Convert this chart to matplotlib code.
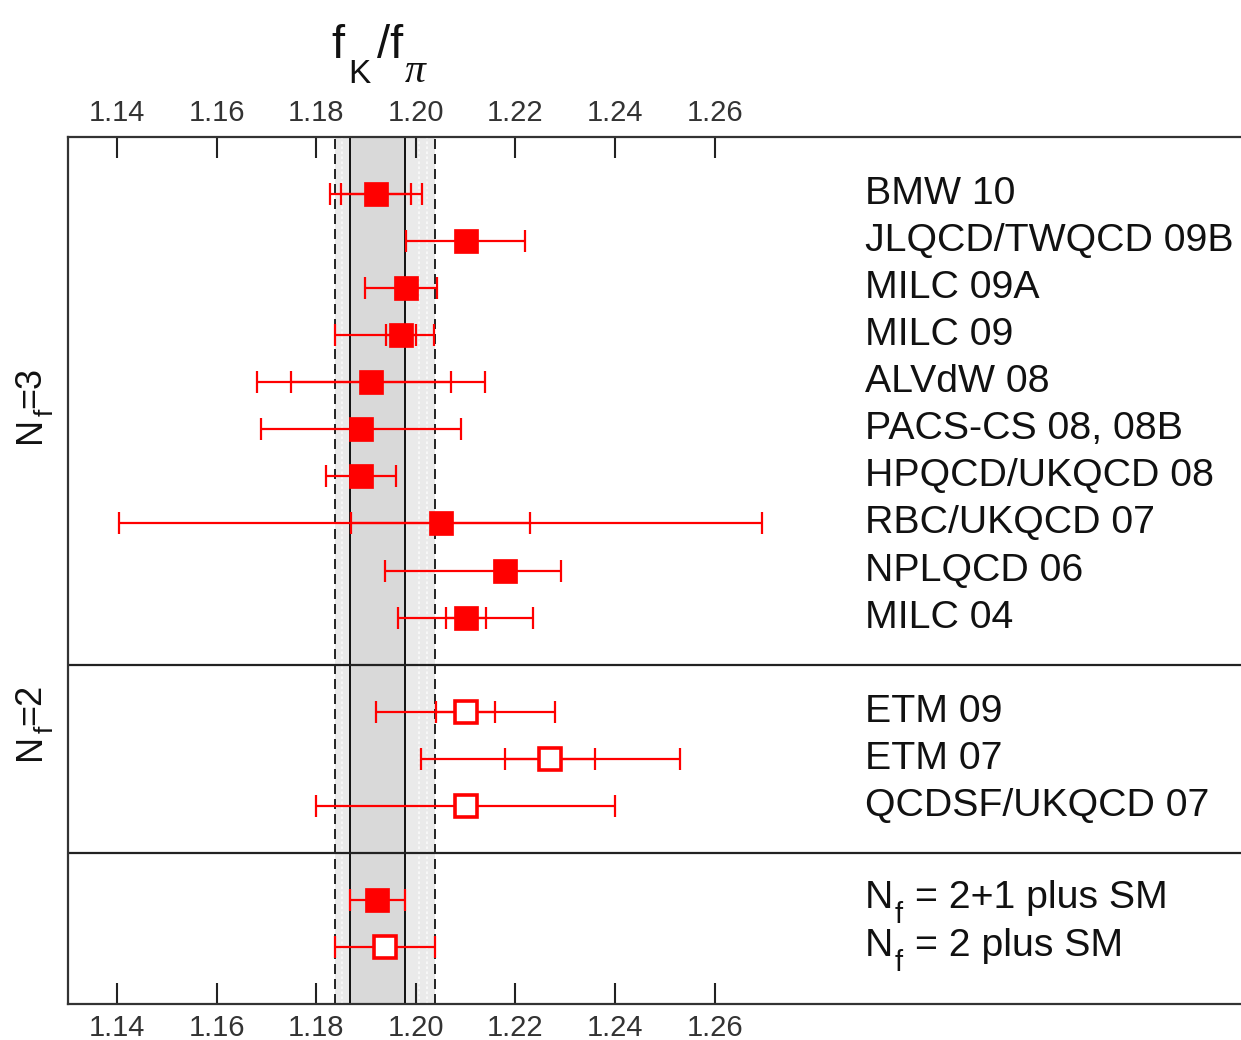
import matplotlib
matplotlib.use('Agg')
import matplotlib.pyplot as plt
from matplotlib import font_manager as fm
from matplotlib.transforms import offset_copy

plt.rcParams['font.family'] = ['Liberation Sans', 'DejaVu Sans']
plt.rcParams['mathtext.fontset'] = 'custom'
plt.rcParams['mathtext.rm'] = 'Liberation Sans'
plt.rcParams['mathtext.it'] = 'Liberation Sans:italic'
plt.rcParams['mathtext.sf'] = 'Liberation Sans'

# ---------------- data ----------------
labels_nf3 = ['BMW 10', 'JLQCD/TWQCD 09B', 'MILC 09A', 'MILC 09', 'ALVdW 08',
              'PACS-CS 08, 08B', 'HPQCD/UKQCD 08', 'RBC/UKQCD 07', 'NPLQCD 06', 'MILC 04']
val_nf3 = [1.192, 1.210, 1.198, 1.197, 1.191, 1.189, 1.189, 1.205, 1.218, 1.210]
stat_nf3 = [0.007, None, 0.002, 0.003, 0.016, None, None, 0.018, 0.002, 0.004]
totlo_nf3 = [0.0092, 0.012, 0.0082, 0.0133, 0.0228, 0.020, 0.007, 0.0645, 0.0241, 0.0136]
tothi_nf3 = [0.0092, 0.012, 0.0063, 0.0067, 0.0228, 0.020, 0.007, 0.0645, 0.0112, 0.0136]

labels_nf2 = ['ETM 09', 'ETM 07', 'QCDSF/UKQCD 07']
val_nf2 = [1.210, 1.227, 1.210]
stat_nf2 = [0.006, 0.009, None]
totlo_nf2 = [0.018, 0.026, 0.030]
tothi_nf2 = [0.018, 0.026, 0.030]

# SM labels as (main, subscript, rest)
labels_sm = [('N', 'f', '= 2+1 plus SM'), ('N', 'f', '= 2 plus SM')]
val_sm = [1.1923, 1.1938]
err_sm = [0.0055, 0.0100]
filled_sm = [True, False]

group_labels = [('N', 'f', '=3'), ('N', 'f', '=2')]

xticks = [1.14, 1.16, 1.18, 1.20, 1.22, 1.24, 1.26]

# ---------------- layout ----------------
W, H = 1241, 1040
fig = plt.figure(figsize=(W / 100, H / 100), dpi=100)
ax = fig.add_axes([68 / W, 36 / H, 1 - 68 / W, 867 / H])
ax.set_xlim(1.13016, 1.3657)
ax.set_ylim(17.2, -1.2)
renderer = fig.canvas.get_renderer()

# row positions
y_nf3 = list(range(len(labels_nf3)))
y_nf2 = [len(labels_nf3) + 1 + i for i in range(len(labels_nf2))]
y_sm = [y_nf2[-1] + 2 + i for i in range(len(labels_sm))]
sep1 = len(labels_nf3)
sep2 = y_nf2[-1] + 1

# bands from the SM results
lo_dark, hi_dark = val_sm[0] - err_sm[0], val_sm[0] + err_sm[0]
lo_light, hi_light = val_sm[1] - err_sm[1], val_sm[1] + err_sm[1]
ax.axvspan(lo_light, hi_light, color='#eaeaea', zorder=0, lw=0)
ax.axvspan(lo_dark, hi_dark, color='#d9d9d9', zorder=0.5, lw=0)
for xv in [lo_light + 0.0013, hi_light - 0.0032, hi_light - 0.0015]:
    ax.axvline(xv, color='white', lw=1.2, ls=(0, (1.5, 1.5)), zorder=0.6, alpha=0.8)
for xv in [lo_light, hi_light]:
    ax.axvline(xv, color='black', lw=1.2, ls=(0, (6, 3)), zorder=1)
for xv in [lo_dark, hi_dark]:
    ax.axvline(xv, color='black', lw=1.3, zorder=1)

# separators
for ys in [sep1, sep2]:
    ax.axhline(ys, color='#222222', lw=1.6, zorder=1)

RED = '#ff0000'
EKW = dict(fmt='none', ecolor=RED, elinewidth=1.6, capsize=8, capthick=1.6, zorder=4)


def draw_point(y, v, lo, hi, stat, filled):
    ax.errorbar([v], [y], xerr=[[lo], [hi]], **EKW)
    if stat is not None:
        ax.errorbar([v], [y], xerr=[[stat], [stat]], **EKW)
    if filled:
        ax.plot([v], [y], ls='none', marker='s', ms=17, mfc=RED, mec=RED, mew=0.5, zorder=5)
    else:
        ax.plot([v], [y], ls='none', marker='s', ms=15.5, mfc='white', mec=RED, mew=2.6, zorder=5)


for y, v, lo, hi, s in zip(y_nf3, val_nf3, totlo_nf3, tothi_nf3, stat_nf3):
    draw_point(y, v, lo, hi, s, True)
for y, v, lo, hi, s in zip(y_nf2, val_nf2, totlo_nf2, tothi_nf2, stat_nf2):
    draw_point(y, v, lo, hi, s, False)
for y, v, e, f in zip(y_sm, val_sm, err_sm, filled_sm):
    draw_point(y, v, e, e, None, f)

TXT = '#111111'
FS = 28.3


def text_width(s, size):
    t = fig.text(0, 0, s, fontsize=size)
    w = t.get_window_extent(renderer).width
    t.remove()
    return w


def sub_label(x, y, transform, parts, size, subsize, drop, gap, base_dy=0.0,
              rotation=0, center=False):
    """Draw main + lowered subscript + rest, all as real text pieces (dots offsets)."""
    main, sub, rest = parts
    w1 = text_width(main, size)
    w2 = text_width(sub, subsize)
    w3 = text_width(rest, size)
    offs = [(0.0, 0.0), (w1 + 1.0, -drop), (w1 + w2 + gap, 0.0)]
    total = w1 + w2 + gap + w3
    start = -total / 2.0 if center else 0.0
    for (s, sz), (adv, dd) in zip([(main, size), (sub, subsize), (rest, size)], offs):
        a = start + adv
        d = base_dy + dd
        if rotation == 90:
            dx, dy = -d, a
        else:
            dx, dy = a, d
        tr = offset_copy(transform, fig=fig, x=dx, y=dy, units='dots')
        fig.text(x, y, s, transform=tr, fontsize=sz, ha='left', va='baseline',
                 rotation=rotation, rotation_mode='anchor', color=TXT)


# labels on the right
xlab = 1.2902
for y, lab in zip(y_nf3 + y_nf2, labels_nf3 + labels_nf2):
    ax.text(xlab, y, lab, fontsize=FS, va='center', ha='left', color=TXT)
cap_half = 0.716 * FS * 100 / 72 / 2
for y, parts in zip(y_sm, labels_sm):
    sub_label(xlab, y, ax.transData, parts, FS, 21, 15, 13, base_dy=-cap_half + 6)

# ticks
try:
    fm.findfont('Liberation Sans Narrow', fallback_to_default=False)
    tick_family, tick_size = 'Liberation Sans Narrow', 24
except Exception:
    tick_family, tick_size = 'Liberation Sans', 21
ax.set_xticks(xticks)
ax.set_xticklabels(['%.2f' % t for t in xticks])
ax.tick_params(axis='x', direction='in', length=15, width=1.5, top=True, bottom=True,
               labeltop=True, labelbottom=True, pad=7, colors='#222222', labelsize=tick_size)
for lab in ax.get_xticklabels():
    lab.set_family(tick_family)
    lab.set_color('#333333')
ax.set_yticks([])

for sp in ['left', 'top', 'bottom']:
    ax.spines[sp].set_linewidth(1.6)
    ax.spines[sp].set_color('#333333')
ax.spines['right'].set_visible(False)

# group labels (rotated)
gfs = 26
gcap_half = 0.716 * gfs * 100 / 72 / 2
for parts, ypix in zip(group_labels, [405, 722]):
    sub_label(27 / W, 1 - ypix / H, fig.transFigure,
              parts, gfs, 19, 13, 1, base_dy=-gcap_half, rotation=90, center=True)

# title f_K / f_pi
fig.text(331 / W, 1 - 58 / H, 'f', fontsize=34, ha='left', va='baseline', color=TXT)
fig.text(348 / W, 1 - 83 / H, 'K', fontsize=24, ha='left', va='baseline', color=TXT)
fig.text(377 / W, 1 - 58 / H, '/f', fontsize=34, ha='left', va='baseline', color=TXT)
fig.text(405 / W, 1 - 82 / H, 'π', fontsize=30, ha='left', va='baseline', color=TXT,
         family=['Liberation Serif', 'DejaVu Serif'], style='italic')

fig.savefig('out.png', dpi=100)
